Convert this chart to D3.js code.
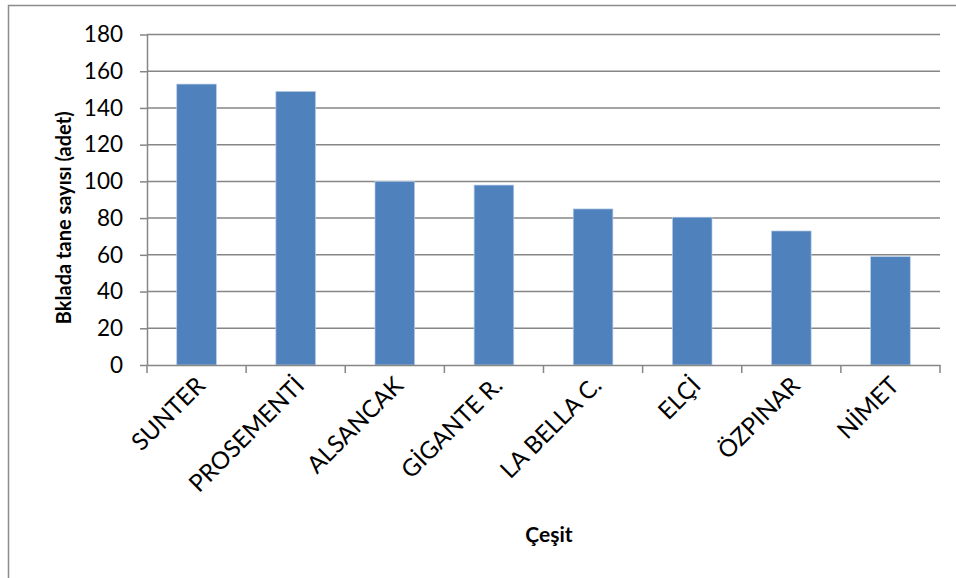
<!DOCTYPE html>
<html><head><meta charset="utf-8">
<script src="https://cdn.jsdelivr.net/npm/d3@7/dist/d3.min.js"></script>
<style>body{margin:0;background:#fff}svg{display:block}</style>
</head><body>
<script>
const categories = ["SUNTER","PROSEMENTİ","ALSANCAK","GİGANTE R.","LA BELLA C.","ELÇİ","ÖZPINAR","NİMET"];
const values = [153, 149, 100, 98, 85, 80.5, 73, 59];
const yTicks = [0,20,40,60,80,100,120,140,160,180];
const yTitle = "Bklada tane sayısı (adet)";
const xTitle = "Çeşit";

const W = 956, H = 578;
const m = {left:147, right:940, top:34.5, bottom:365};
const font = "Lato, 'Open Sans', sans-serif";
const svg = d3.select("body").append("svg").attr("width",W).attr("height",H);

svg.append("rect").attr("x",8.5).attr("y",5.5).attr("width",W).attr("height",H)
  .attr("fill","#fff").attr("stroke","#8c8c8c").attr("stroke-width",1.5);

const x = d3.scaleBand().domain(categories).range([m.left,m.right]).paddingInner(0.6).paddingOuter(0.3);
const xb = d3.scaleBand().domain(categories).range([m.left,m.right]).padding(0);
const y = d3.scaleLinear().domain([0,180]).range([m.bottom,m.top]);

// gridlines
svg.append("g").selectAll("line").data(yTicks.filter(d=>d>0)).join("line")
  .attr("x1",m.left).attr("x2",m.right).attr("y1",d=>y(d)).attr("y2",d=>y(d))
  .attr("stroke","#868686").attr("stroke-width",1.5);

// bars
svg.append("g").selectAll("rect").data(values).join("rect")
  .attr("x",(d,i)=>x(categories[i])).attr("width",x.bandwidth())
  .attr("y",d=>y(d)).attr("height",d=>y(0)-y(d))
  .attr("fill","#4F81BD").attr("stroke","#b9cde5").attr("stroke-width",0.7);

// y axis
const ya = svg.append("g").attr("transform",`translate(${m.left},0)`)
  .call(d3.axisLeft(y).tickValues(yTicks).tickSize(7).tickPadding(17).tickSizeOuter(0));
ya.select(".domain").attr("stroke","#868686").attr("stroke-width",1.5);
ya.selectAll(".tick line").attr("stroke","#868686").attr("stroke-width",1.5);
ya.selectAll(".tick text").attr("font-family",font).attr("font-size",22.5).attr("fill","#000");

// x axis
const xa = svg.append("g").attr("transform",`translate(0,${m.bottom})`)
  .call(d3.axisBottom(xb).tickSize(0).tickFormat(""));
xa.select(".domain").attr("stroke","#868686").attr("stroke-width",1.5);
const bounds = categories.map(c=>xb(c)).concat([m.right]);
svg.append("g").selectAll("line").data(bounds).join("line")
  .attr("x1",d=>d).attr("x2",d=>d).attr("y1",m.bottom).attr("y2",m.bottom+8)
  .attr("stroke","#868686").attr("stroke-width",1.5);

svg.append("g").selectAll("text").data(categories).join("text")
  .attr("transform",c=>`translate(${xb(c)+xb.bandwidth()/2+10},${m.bottom+22}) rotate(-45)`)
  .attr("text-anchor","end").attr("font-family",font).attr("font-size",24).attr("fill","#000")
  .text(c=>c);

svg.append("text").attr("transform",`translate(71,${(m.top+m.bottom)/2+18}) rotate(-90)`)
  .attr("text-anchor","middle").attr("font-family",font).attr("font-weight","bold").attr("font-size",20)
  .text(yTitle);
svg.append("text").attr("x",549).attr("y",542).attr("text-anchor","middle")
  .attr("font-family",font).attr("font-weight","bold").attr("font-size",21).text(xTitle);
</script>
</body></html>
